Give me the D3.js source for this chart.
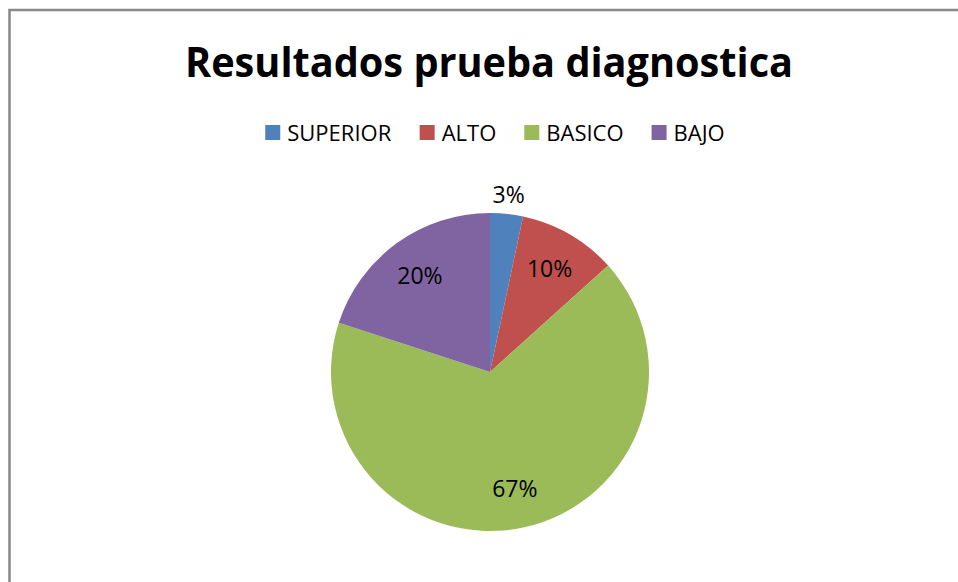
<!DOCTYPE html>
<html lang="es">
<head>
<meta charset="UTF-8">
<title>Resultados prueba diagnostica</title>
<script src="https://d3js.org/d3.v7.min.js"></script>
<style>
    body { margin: 0; background: #fff; }
    text { font-family: "Open Sans", "DejaVu Sans", sans-serif; fill: #000; }
</style>
</head>
<body>
<svg width="958" height="582"></svg>
<script>
    // datos (1, 3, 20 y 6 de 30 -> 3%, 10%, 67%, 20%)
    var categories = ["SUPERIOR", "ALTO", "BASICO", "BAJO"];
    var counts = [1, 3, 20, 6];
    var colors = ["#4F81BD", "#C0504D", "#9BBB59", "#8064A2"];
    var title = "Resultados prueba diagnostica";

    var svg = d3.select("svg"),
        width = +svg.attr("width"),
        height = +svg.attr("height");

    // marco del grafico
    svg.append("rect")
        .attr("x", 9.5).attr("y", 10)
        .attr("width", 980).attr("height", 600)
        .attr("fill", "none")
        .attr("stroke", "#888")
        .attr("stroke-width", 2.5);

    svg.append("text")
        .attr("x", 489)
        .attr("y", 77)
        .attr("text-anchor", "middle")
        .attr("font-size", 41)
        .attr("font-weight", "bold")
        .attr("textLength", 608)
        .attr("lengthAdjust", "spacingAndGlyphs")
        .text(title);

    // leyenda
    var legend = svg.append("g").attr("transform", "translate(0,133)");
    var items = legend.selectAll("g")
        .data(categories)
        .enter().append("g");
    items.append("rect")
        .attr("y", -8)
        .attr("width", 15).attr("height", 15)
        .attr("fill", function(d, i) { return colors[i]; });
    items.append("text")
        .attr("x", 22)
        .attr("dy", "0.35em")
        .attr("font-size", 22)
        .text(function(d) { return d; });

    var xs = [], cur = 0;
    items.each(function() {
        xs.push(cur);
        cur += this.getBBox().width + 28;
    });
    var total = cur - 28, x0 = 495 - total / 2;
    items.attr("transform", function(d, i) { return "translate(" + (x0 + xs[i]) + ",0)"; });

    // pastel
    var cx = 490, cy = 372, r = 159;
    var sum = d3.sum(counts);
    var pie = d3.pie().sort(null).value(function(d) { return d; });
    var arcs = pie(counts);
    var arc = d3.arc().innerRadius(0).outerRadius(r);
    var inside = d3.arc().innerRadius(r * 0.75).outerRadius(r * 0.75);
    var outside = d3.arc().innerRadius(r * 1.12).outerRadius(r * 1.12);

    var g = svg.append("g").attr("transform", "translate(" + cx + "," + cy + ")");
    g.selectAll("path")
        .data(arcs)
        .enter().append("path")
        .attr("d", arc)
        .attr("fill", function(d, i) { return colors[i]; });

    g.selectAll("text.lbl")
        .data(arcs)
        .enter().append("text")
        .attr("class", "lbl")
        .attr("transform", function(d) {
            var c = (d.value / sum < 0.05) ? outside.centroid(d) : inside.centroid(d);
            return "translate(" + c + ")";
        })
        .attr("text-anchor", "middle")
        .attr("dy", "0.35em")
        .attr("font-size", 23)
        .text(function(d) { return Math.round(d.value / sum * 100) + "%"; });
</script>
</body>
</html>
